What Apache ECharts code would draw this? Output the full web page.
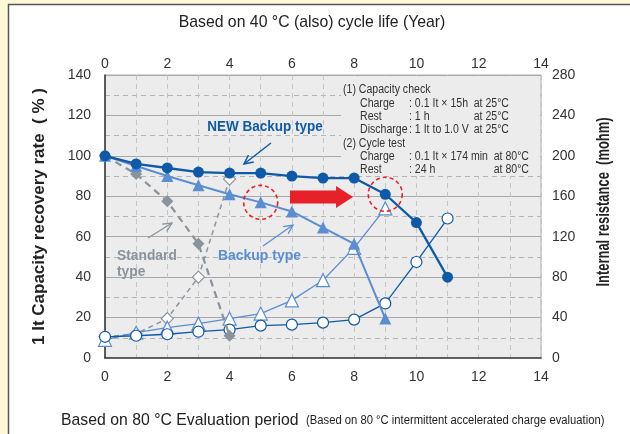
<!DOCTYPE html>
<html>
<head>
<meta charset="utf-8">
<script src="https://cdn.jsdelivr.net/npm/echarts@6/dist/echarts.min.js"></script>
<style>
  html, body { margin: 0; padding: 0; background: #fff8d8; }
  #chart { width: 630px; height: 434px; }
</style>
</head>
<body>
<div id="chart"></div>
<script>
// cycle steps (x values) and readings
const cycles = [0, 1, 2, 3, 4, 5, 6, 7, 8, 9, 10, 11];

// capacity recovery rate (%)
const newCapacity = [100, 96, 94, 92, 91.5, 91.5, 90, 89, 89, 81, 67, 40];
const backupCapacity = [100, 95, 90, 85.5, 81, 77, 72.5, 64.5, 56.5, 19.5];
const standardCapacity = [100, 91, 77.5, 56.5, 11];

// internal resistance (mohm)
const newResistance = [21, 22, 23.5, 26, 28, 32, 33, 35, 38, 54, 95, 138];
const backupResistance = [18, 25, 30, 34, 39, 44, 57, 77, 109, 148];
const standardResistance = [21, 24, 39, 80, 177];

const noteLines = [
  ["(1) Capacity check", "", ""],
  ["Charge", ": 0.1 It × 15h", "at 25°C"],
  ["Rest", ": 1 h", "at 25°C"],
  ["Discharge", ": 1 It to 1.0 V", "at 25°C"],
  ["(2) Cycle test", "", ""],
  ["Charge", ": 0.1 It × 174 min", "at 80°C"],
  ["Rest", ": 24 h", "at 80°C"]
];

const FONT = "'Liberation Sans Narrow', 'Arial Narrow', 'Liberation Sans', sans-serif";
const DARK = "#0f5aa8";
const MID = "#5b8dd3";
const GREY = "#8a939c";

const pairs = vals => vals.map((v, i) => [cycles[i], v]);

const chart = echarts.init(document.getElementById("chart"));

function lineSeries(name, vals, yIdx, opts) {
  return Object.assign({
    name: name,
    type: "line",
    xAxisIndex: 0,
    yAxisIndex: yIdx,
    data: pairs(vals),
    animation: false
  }, opts);
}

const option = {
  backgroundColor: "transparent",
  animation: false,
  grid: {
    left: 105, right: 89, top: 75, bottom: 76,
    show: true, backgroundColor: "#ececec", borderColor: "#b0b0b0", borderWidth: 1
  },
  xAxis: [
    {
      type: "value", position: "bottom", min: 0, max: 14, interval: 2,
      axisLine: { show: true, lineStyle: { color: "#333", width: 1.5 } },
      axisTick: { show: false },
      axisLabel: { color: "#333", fontSize: 14, fontFamily: FONT, margin: 12 },
      splitLine: { show: true, lineStyle: { color: "#c4c4c4", type: [5, 4], width: 1 } },
      minorTick: { show: false, splitNumber: 2 },
      minorSplitLine: { show: true, lineStyle: { color: "#c4c4c4", type: [5, 4], width: 1 } }
    },
    {
      type: "value", position: "top", min: 0, max: 14, interval: 2,
      axisLine: { show: true, lineStyle: { color: "#666", width: 1 } },
      axisTick: { show: false },
      axisLabel: { color: "#333", fontSize: 14, fontFamily: FONT, margin: 4 },
      splitLine: { show: false }
    }
  ],
  yAxis: [
    {
      type: "value", min: 0, max: 140, interval: 20,
      name: "1 It Capacity recovery rate  ( % )",
      nameLocation: "middle", nameGap: 57, nameRotate: 90,
      nameTextStyle: { color: "#222", fontSize: 17, fontWeight: "bold", fontFamily: FONT },
      axisLine: { show: true, lineStyle: { color: "#333", width: 1.5 } },
      axisTick: { show: false },
      axisLabel: { color: "#333", fontSize: 14, fontFamily: FONT, margin: 14 },
      splitLine: { show: true, lineStyle: { color: "#a8a8a8", width: 1 } },
      minorTick: { show: false, splitNumber: 2 },
      minorSplitLine: { show: true, lineStyle: { color: "#b4b4b4", type: [5, 4], width: 1 } }
    },
    {
      type: "value", min: 0, max: 280, interval: 40,
      axisLine: { show: false },
      axisTick: { show: false },
      axisLabel: { color: "#333", fontSize: 14, fontFamily: FONT, margin: 11 },
      splitLine: { show: false }
    }
  ],
  series: [
    lineSeries("Standard resistance", standardResistance, 1, {
      symbol: "diamond", symbolSize: 12,
      itemStyle: { color: "#fff", borderColor: GREY, borderWidth: 1.2 },
      lineStyle: { color: GREY, width: 1.5, type: [5, 4] }, z: 3
    }),
    lineSeries("Backup resistance", backupResistance, 1, {
      symbol: "triangle", symbolSize: 13,
      itemStyle: { color: "#fff", borderColor: MID, borderWidth: 1.2 },
      lineStyle: { color: MID, width: 1.3 }, z: 4
    }),
    lineSeries("NEW resistance", newResistance, 1, {
      symbol: "circle", symbolSize: 11,
      itemStyle: { color: "#fff", borderColor: DARK, borderWidth: 1.2 },
      lineStyle: { color: DARK, width: 1.3 }, z: 5
    }),
    lineSeries("Standard capacity", standardCapacity, 0, {
      symbol: "diamond", symbolSize: 12,
      itemStyle: { color: GREY },
      lineStyle: { color: GREY, width: 2.2, type: [7, 5] }, z: 6
    }),
    lineSeries("Backup capacity", backupCapacity, 0, {
      symbol: "triangle", symbolSize: 12,
      itemStyle: { color: MID },
      lineStyle: { color: MID, width: 2 }, z: 7
    }),
    lineSeries("NEW capacity", newCapacity, 0, {
      symbol: "circle", symbolSize: 11,
      itemStyle: { color: DARK },
      lineStyle: { color: DARK, width: 2.3 }, z: 8
    })
  ]
};

chart.setOption(option);

// open arrow: shaft plus V head
function arrow(x1, y1, x2, y2, color, width, head) {
  const a = Math.atan2(y2 - y1, x2 - x1);
  const s = 0.45;
  return [
    { type: "polyline", z: 20, shape: { points: [[x1, y1], [x2, y2]] }, style: { stroke: color, lineWidth: width, fill: null } },
    { type: "polyline", z: 20, shape: { points: [
      [x2 - head * Math.cos(a - s), y2 - head * Math.sin(a - s)],
      [x2, y2],
      [x2 - head * Math.cos(a + s), y2 - head * Math.sin(a + s)]
    ] }, style: { stroke: color, lineWidth: width, fill: null } }
  ];
}

// narrow text: the picture uses a condensed face, squeeze horizontally
function text(x, y, str, style, sx, rot) {
  return {
    type: "text", x: x, y: y, z: 20,
    scaleX: sx || 0.88,
    rotation: rot || 0,
    style: Object.assign({ text: str, fontFamily: FONT, fill: "#333", fontSize: 12, verticalAlign: "middle", align: "left" }, style)
  };
}

const g = [];
// white panel on the yellow page
g.push({ type: "rect", z: -10, shape: { x: 8.5, y: 4.5, width: 640, height: 450 }, style: { fill: "#fff", stroke: "#555", lineWidth: 1.5 } });

// titles
g.push(text(312, 22, "Based on 40 °C (also) cycle life (Year)", { fontSize: 17, align: "center", fill: "#222" }, 0.93));
g.push(text(61, 420, "Based on 80 °C Evaluation period", { fontSize: 17, fill: "#222" }, 0.93));
g.push(text(306, 421, "(Based on 80 °C intermittent accelerated charge evaluation)", { fontSize: 12.5, fill: "#222" }, 0.9));

// right axis title
g.push(text(604, 202, "Internal resistance  (mohm)", { fontSize: 17.5, fontWeight: "bold", fill: "#222", align: "center" }, 0.74, Math.PI / 2));

// notes box
g.push({ type: "rect", z: 1, shape: { x: 341, y: 76, width: 199, height: 100 }, style: { fill: "#ececec" } });
noteLines.forEach((ln, i) => {
  const y = 90 + i * 13.3;
  if (!ln[1]) {
    g.push(text(343, y, ln[0]));
  } else {
    const right = i >= 4 ? 529 : 509;
    g.push(text(360, y, ln[0]));
    g.push(text(409, y, ln[1]));
    g.push(text(right, y, ln[2], { align: "right" }));
  }
});

// series call-outs
g.push(text(265, 127, "NEW Backup type", { fontSize: 15, fontWeight: "bold", fill: DARK, align: "center" }, 0.9));
g.push(...arrow(271, 143, 244, 164, DARK, 1.5, 10));
g.push(text(117, 256, "Standard", { fontSize: 15, fontWeight: "bold", fill: GREY }, 0.92));
g.push(text(117, 272, "type", { fontSize: 15, fontWeight: "bold", fill: GREY }, 0.92));
g.push(...arrow(148, 238, 172, 223, GREY, 1.3, 10));
g.push(text(218, 256, "Backup type", { fontSize: 15, fontWeight: "bold", fill: MID }, 0.93));
g.push(...arrow(263, 246, 293, 225, MID, 1.3, 10));

// red arrow
g.push({ type: "polygon", z: 20, shape: { points: [[290, 190.5], [336, 190.5], [336, 186], [353, 197], [336, 208], [336, 203.5], [290, 203.5]] }, style: { fill: "#e8202a" } });

// red dashed rings around the two highlighted points
const p1 = chart.convertToPixel({ xAxisIndex: 0, yAxisIndex: 0 }, [cycles[5], backupCapacity[5]]);
const p2 = chart.convertToPixel({ xAxisIndex: 0, yAxisIndex: 0 }, [cycles[9], newCapacity[9]]);
[p1, p2].forEach(p => {
  g.push({ type: "circle", z: 20, shape: { cx: p[0], cy: p[1], r: 17 }, style: { fill: null, stroke: "#e8202a", lineWidth: 1.6, lineDash: [4, 3] } });
});

chart.setOption({ graphic: g });
</script>
</body>
</html>
